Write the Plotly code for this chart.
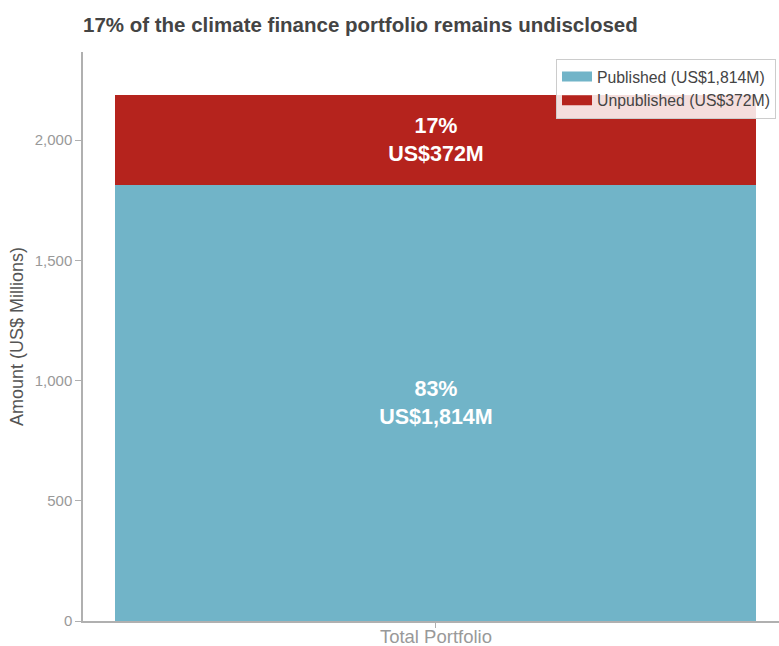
import plotly.graph_objects as go

categories = ["Total Portfolio"]
published = [1814]
unpublished = [372]
pub_pct = [83]
unpub_pct = [17]
legend_labels = ["Published (US$1,814M)", "Unpublished (US$372M)"]

BLUE = "#71b4c8"
RED = "#b5231d"
FONT = "Liberation Sans, Arial, sans-serif"

fig = go.Figure()
for vals, pcts, color in [(published, pub_pct, BLUE), (unpublished, unpub_pct, RED)]:
    fig.add_trace(go.Bar(
        x=categories, y=vals, showlegend=False,
        marker=dict(color=color, line=dict(width=0)), width=0.908,
        text=[f"<b>{p}%<br>US${v:,}M</b>" for p, v in zip(pcts, vals)],
        textposition="inside", insidetextanchor="middle",
        textfont=dict(color="white", size=21.5, family=FONT),
        hoverinfo="skip",
    ))

# legend entries with wide swatches
for label, color in zip(legend_labels, [BLUE, RED]):
    fig.add_trace(go.Scatter(
        x=[None], y=[None], mode="lines", name=label,
        line=dict(color=color, width=12),
    ))

W, H = 779, 646
fig.update_layout(
    width=W, height=H,
    barmode="stack",
    margin=dict(l=83, r=0, t=52, b=25),
    paper_bgcolor="white", plot_bgcolor="white",
    font=dict(family=FONT, color="#999999", size=15),
    title=dict(text="<b>17% of the climate finance portfolio remains undisclosed</b>",
               x=83/W, xanchor="left", y=1-25/H, yanchor="middle",
               font=dict(size=20.5, color="#444444", family=FONT)),
    showlegend=True,
    legend=dict(x=0.9957, xanchor="right", y=0.988, yanchor="top",
                bgcolor="rgba(255,255,255,0.85)", bordercolor="#cccccc", borderwidth=1,
                font=dict(size=15.8, color="#444444", family=FONT),
                traceorder="normal", tracegroupgap=0),
    xaxis=dict(type="category", range=[-0.5, 0.486], showline=True, linecolor="#b0b0b0",
               linewidth=1.5, ticks="outside", tickcolor="#b0b0b0", ticklen=5,
               ticklabelstandoff=-7,
               tickfont=dict(size=18.5, color="#999999"), showgrid=False,
               automargin=False),
    yaxis=dict(range=[0, 2366], showline=True, linecolor="#b0b0b0", linewidth=1.5,
               ticks="outside", tickcolor="#b0b0b0", ticklen=6, tickformat=",",
               tickvals=[0, 500, 1000, 1500, 2000], showgrid=False, zeroline=False,
               tickfont=dict(size=15, color="#999999"), automargin=False,
               title=dict(text="Amount (US$ Millions)", font=dict(size=18, color="#555555"),
                          standoff=6)),
)

fig.write_html("out.html", config={"displayModeBar": False},
               post_script="document.body.style.margin='0';")
